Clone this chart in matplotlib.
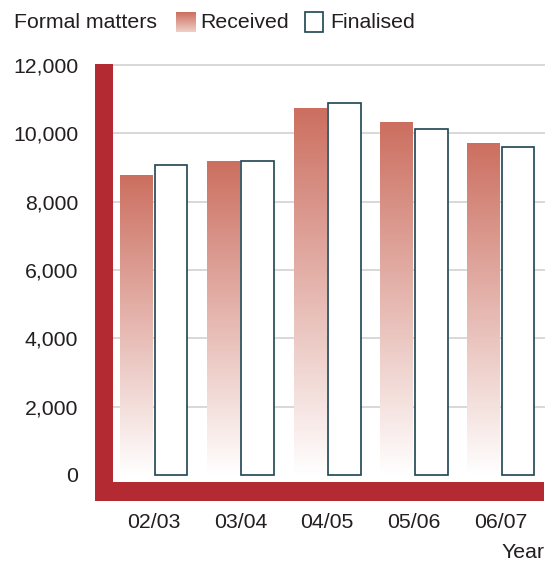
import numpy as np
import matplotlib
matplotlib.use("Agg")
import matplotlib.pyplot as plt
from matplotlib.patches import Rectangle
from matplotlib.colors import LinearSegmentedColormap

years = ["02/03", "03/04", "04/05", "05/06", "06/07"]
received = [8780, 9180, 10740, 10330, 9720]
finalised = [9070, 9200, 10900, 10130, 9600]
yticks = [0, 2000, 4000, 6000, 8000, 10000, 12000]
ytick_labels = ["0", "2,000", "4,000", "6,000", "8,000", "10,000", "12,000"]

plt.rcParams['font.family'] = ['Liberation Sans', 'DejaVu Sans']
TXT = '#231f20'
RED = '#b42a33'
EDGE = '#1d4350'
TOP = '#cc6f60'
FS = 15.3
W, H = 552, 562
fig = plt.figure(figsize=(W / 100, H / 100), dpi=100)

def fx(px):
    return px / W

def fy(py):
    return 1 - py / H

ax = fig.add_axes([fx(95), fy(501), fx(545) - fx(95), fy(64) - fy(501)])
ppu = 410 / 12000.0
sp = 86.75
for s in ax.spines.values():
    s.set_visible(False)

cmap = LinearSegmentedColormap.from_list('g', ['#ffffff', TOP])
x = np.arange(len(years))
bw = 0.38
off = 0.199
rbars = ax.bar(x - off, received, bw, facecolor='none', edgecolor='none', zorder=3)
grad = np.linspace(0, 1, 256).reshape(-1, 1)
for b in rbars:
    x0, w, h = b.get_x(), b.get_width(), b.get_height()
    im = ax.imshow(grad, cmap=cmap, aspect='auto', origin='lower',
                   extent=[x0, x0 + w, 0, h], zorder=3, interpolation='bilinear')
    im.set_clip_path(b)
ax.bar(x + off, finalised, bw, facecolor='white', edgecolor=EDGE, linewidth=1.2, zorder=4)
ax.set_xlim(-(153.75 - 95) / sp, 4 + (545 - 500.75) / sp)
ax.set_ylim(-(501 - 475) / ppu, 12000 + (65 - 64) / ppu)

for t in yticks[1:]:
    ax.axhline(t, xmin=0.04, xmax=1.0, color='#d2d2d2', lw=1.2, zorder=1)

ax.add_patch(Rectangle((0, 0), 18 / 450, 1, transform=ax.transAxes,
                       facecolor=RED, edgecolor='none', zorder=6, clip_on=False))
ax.add_patch(Rectangle((0, 0), 449 / 450, 19 / 437, transform=ax.transAxes,
                       facecolor=RED, edgecolor='none', zorder=6, clip_on=False))

ax.set_yticks(yticks)
ax.set_yticklabels(ytick_labels)
ax.set_xticks(x)
ax.set_xticklabels(years)
ax.tick_params(axis='y', length=0, pad=12, labelsize=FS, labelcolor=TXT)
ax.tick_params(axis='x', length=0, pad=8.5, labelsize=FS, labelcolor=TXT)

fig.text(fx(545), fy(553), 'Year', ha='right', va='center', fontsize=FS, color=TXT)

# legend
fig.text(fx(14), fy(22), 'Formal matters', ha='left', va='center', fontsize=FS, color=TXT)
lax = fig.add_axes([fx(176), fy(32), fx(195) - fx(176), fy(12) - fy(32)])
lax.imshow(grad[::-1][:200], cmap=LinearSegmentedColormap.from_list('l', ['#f0cfc6', TOP]),
           aspect='auto', origin='upper', extent=[0, 1, 0, 1])
lax.axis('off')
fig.text(fx(200), fy(22), 'Received', ha='left', va='center', fontsize=FS, color=TXT)
fig.add_artist(Rectangle((fx(305), fy(32)), fx(323) - fx(305), fy(12) - fy(32),
                         transform=fig.transFigure, facecolor='white', edgecolor=EDGE, lw=1.2))
fig.text(fx(330), fy(22), 'Finalised', ha='left', va='center', fontsize=FS, color=TXT)

fig.savefig('out.png', dpi=100)
